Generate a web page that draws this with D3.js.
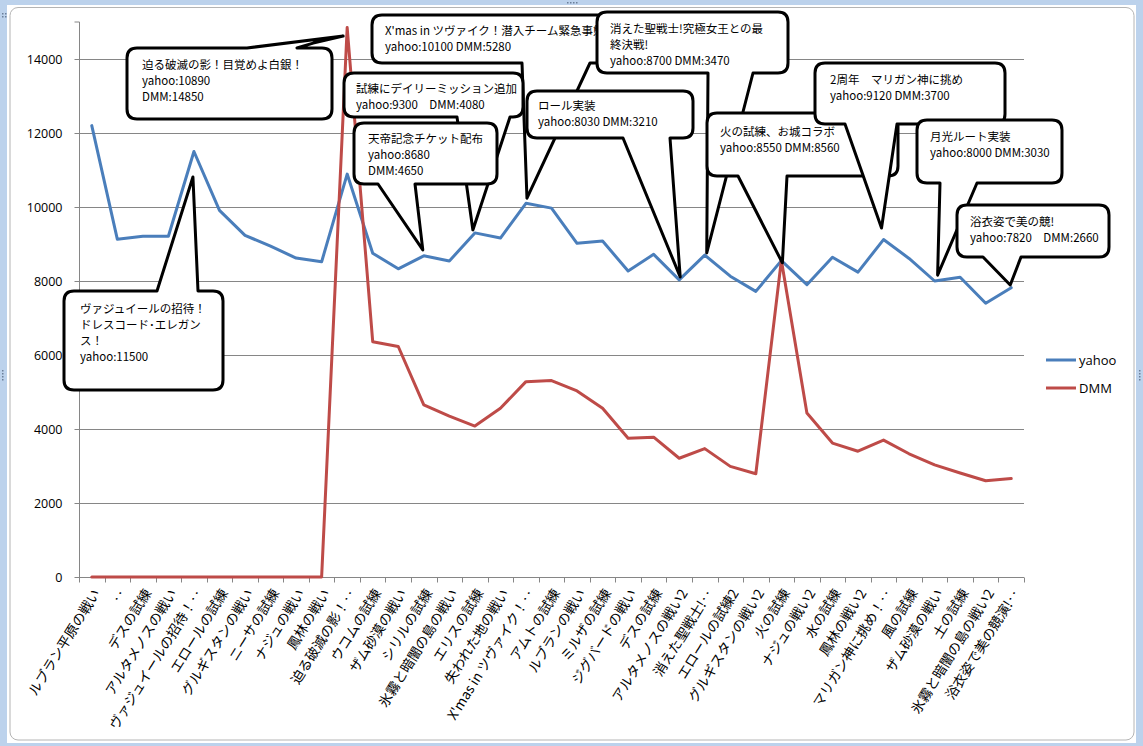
<!DOCTYPE html>
<html><head><meta charset="utf-8">
<script src="https://cdn.jsdelivr.net/npm/d3@7"></script>
<style>
html,body{margin:0;padding:0;background:#fff;}
svg{display:block;}
</style></head>
<body>
<svg id="chart" width="1143" height="746"></svg>
<script>
const categories = ["ルブラン平原の戦い","‥","デスの試練","アルタメノスの戦い","ヴァジュイールの招待！‥","エロールの試練","グルギスタンの戦い","ニーサの試練","ナジュの戦い","鳳林の戦い","迫る破滅の影！‥","ウコムの試練","ザム砂漠の戦い","シリルの試練","氷霧と暗闇の島の戦い","エリスの試練","失われた地の戦い","X'mas in ツヴァイク！‥","アムトの試練","ルブランの戦い","ミルザの試練","ジグバードの戦い","デスの試練","アルタメノスの戦い2","消えた聖戦士!‥","エロールの試練2","グルギスタンの戦い2","火の試練","ナジュの戦い2","水の試練","鳳林の戦い2","マリガン神に挑め！‥","風の試練","ザム砂漠の戦い","土の試練","氷霧と暗闇の島の戦い2","浴衣姿で美の競演!‥"];
const yahoo = [12200,9130,9210,9210,11500,9910,9235,8940,8620,8520,10890,8750,8330,8680,8540,9300,9160,10100,9970,9020,9080,8270,8720,8030,8700,8130,7720,8550,7900,8640,8240,9120,8610,8000,8100,7400,7820];
const dmm = [0,0,0,0,0,0,0,0,0,0,14850,6360,6230,4650,4350,4080,4560,5280,5310,5030,4560,3750,3780,3210,3470,2990,2790,8560,4430,3620,3400,3700,3330,3030,2810,2600,2660];
const yTicks = [0,2000,4000,6000,8000,10000,12000,14000];
const seriesNames = ["yahoo","DMM"];

// annotation texts (category index, value pointed at)
const noteTexts = [
  ["ヴァジュイールの招待！","ドレスコード･エレガン","ス！","yahoo:11500"],
  ["迫る破滅の影！目覚めよ白銀！","yahoo:10890","DMM:14850"],
  ["X'mas in ツヴァイク！潜入チーム緊急事態","yahoo:10100 DMM:5280"],
  ["試練にデイリーミッション追加","yahoo:9300　DMM:4080"],
  ["天帝記念チケット配布","yahoo:8680","DMM:4650"],
  ["消えた聖戦士!究極女王との最","終決戦!","yahoo:8700 DMM:3470"],
  ["ロール実装","yahoo:8030 DMM:3210"],
  ["火の試練、お城コラボ","yahoo:8550 DMM:8560"],
  ["2周年　マリガン神に挑め","yahoo:9120 DMM:3700"],
  ["月光ルート実装","yahoo:8000 DMM:3030"],
  ["浴衣姿で美の競!","yahoo:7820　DMM:2660"]
];
const noteIndex = [4,10,17,15,13,24,23,27,31,33,36];
const noteValue = [10810,14620,10240,9380,8840,8760,8110,8490,9430,8160,7890];

// layout of the callouts (pixels)
const noteLayout = [
  {x0:64,y0:291,x1:223,y1:390,side:"top",b1:157,b2:198,dx:-1,tx:80,ty:313},
  {x0:127,y0:48,x1:332,y1:119,side:"top",b1:247,b2:297,dx:-4,tx:142,ty:69,kink:[-30,7]},
  {x0:372,y0:15,x1:690,y1:63,side:"bottom",b1:522,b2:590,dx:1,tx:385,ty:35},
  {x0:344,y0:73,x1:523,y1:117,side:"bottom",b1:457,b2:510,dx:-2,tx:356,ty:93},
  {x0:354,y0:123,x1:497,y1:184,side:"bottom",b1:378,b2:415,dx:-1,tx:368,ty:143},
  {x0:597,y0:12,x1:788,y1:73,side:"bottom",b1:708,b2:753,dx:2,tx:610,ty:33},
  {x0:527,y0:91,x1:693,y1:138,side:"bottom",b1:623,b2:670,dx:1,tx:538,ty:110},
  {x0:707,y0:113,x1:898,y1:176,side:"bottom",b1:738,b2:787,dx:1,tx:720,ty:136},
  {x0:815,y0:63,x1:1005,y1:124,side:"bottom",b1:845,b2:897,dx:-2,tx:830,ty:84},
  {x0:917,y0:120,x1:1062,y1:183,side:"bottom",b1:940,b2:977,dx:3,tx:930,ty:141},
  {x0:957,y0:205,x1:1109,y1:257,side:"bottom",b1:983,b2:1021,dx:-1,tx:970,ty:226}
];

const svg = d3.select("#chart");
// window frame
svg.append("rect").attr("x",0).attr("y",0).attr("width",1143).attr("height",746).attr("fill","#bcd2ec");
svg.append("rect").attr("x",7).attr("y",5).attr("width",1129).attr("height",738).attr("fill","#fff");
svg.append("rect").attr("x",10).attr("y",7.5).attr("width",1124).attr("height",732.5).attr("rx",8)
  .attr("fill","#fff").attr("stroke","#b4b4b4").attr("stroke-width",1);
// handles
const handleDots = [[2,13],[5,13],[2,16],[5,16],[567,2],[570,2],[573,2],[576,2],[2,370],[2,373],[2,376],[2,379],[1139,370],[1139,373],[1139,376],[1139,379]];
svg.selectAll("rect.h").data(handleDots).enter().append("rect").attr("class","h")
  .attr("x",d=>d[0]).attr("y",d=>d[1]).attr("width",1.5).attr("height",1.5).attr("fill","#6b7f99");

const L = 79, R = 1024, T = 22, B = 577;
const x = d3.scaleBand().domain(d3.range(categories.length)).range([L,R]).padding(0);
const cx = i => x(i) + x.bandwidth()/2;
const y = d3.scaleLinear().domain([0,15000]).range([B,T]);

// gridlines
svg.append("g").selectAll("line").data(yTicks.filter(v=>v>0)).enter().append("line")
  .attr("x1",L).attr("x2",R).attr("y1",d=>Math.round(y(d))+0.5).attr("y2",d=>Math.round(y(d))+0.5)
  .attr("stroke","#868686").attr("stroke-width",1);

// y axis
const yAxis = svg.append("g").attr("transform",`translate(${L+0.5},0)`)
  .call(d3.axisLeft(y).tickValues(yTicks).tickSize(5).tickPadding(12).tickFormat(d3.format("d")));
yAxis.select(".domain").attr("stroke","#868686").attr("d",`M-5,${T}H0V${B+0.5}`);
yAxis.selectAll(".tick line").attr("stroke","#868686");
yAxis.selectAll("text").attr("font-family","'Open Sans', sans-serif").attr("font-size",12.5).attr("fill","#000");

// x axis
const xAxisG = svg.append("g").attr("transform",`translate(0,${Math.round(B)+0.5})`);
xAxisG.append("line").attr("x1",L).attr("x2",R).attr("stroke","#868686");
xAxisG.selectAll("line.t").data(d3.range(categories.length+1)).enter().append("line").attr("class","t")
  .attr("x1",i=>Math.round(L + i*x.bandwidth())+0.5).attr("x2",i=>Math.round(L + i*x.bandwidth())+0.5)
  .attr("y1",0).attr("y2",5).attr("stroke","#868686");
xAxisG.selectAll("text").data(categories).enter().append("text")
  .attr("transform",(d,i)=>`translate(${cx(i)+5},13) rotate(-58)`)
  .attr("text-anchor","end").attr("dy","0.35em")
  .attr("font-family","'Noto Sans CJK JP', sans-serif").attr("font-size",13.6).attr("fill","#000")
  .text(d=>d);

// lines
const colors = ["#4a7ebb","#be4b48"];
const line = d3.line().x((d,i)=>cx(i)).y(d=>y(d));
[yahoo,dmm].forEach((s,k)=>{
  svg.append("path").datum(s).attr("d",line).attr("fill","none")
    .attr("stroke",colors[k]).attr("stroke-width",3).attr("stroke-linejoin","round").attr("stroke-linecap","round");
});

// legend
const lg = svg.append("g");
seriesNames.forEach((n,k)=>{
  const yy = 360 + k*28;
  lg.append("line").attr("x1",1046).attr("x2",1076).attr("y1",yy).attr("y2",yy).attr("stroke",colors[k]).attr("stroke-width",3);
  lg.append("text").attr("x",1079).attr("y",yy).attr("dy","0.35em").attr("font-family","'Open Sans', sans-serif")
    .attr("font-size",13).attr("fill","#000").text(n);
});

// callouts
function bubblePath(b, tip){
  const r = 10;
  const {x0,y0,x1,y1} = b;
  let p = `M${x0+r},${y0}`;
  if(b.side==="top"){
    p += `L${b.b1},${y0}L${tip[0]},${tip[1]}`;
    if(b.kink) p += `L${tip[0]+b.kink[0]},${tip[1]+b.kink[1]}`;
    p += `L${b.b2},${y0}`;
  }
  p += `L${x1-r},${y0}Q${x1},${y0} ${x1},${y0+r}L${x1},${y1-r}Q${x1},${y1} ${x1-r},${y1}`;
  if(b.side==="bottom"){
    p += `L${b.b2},${y1}L${tip[0]},${tip[1]}L${b.b1},${y1}`;
  }
  p += `L${x0+r},${y1}Q${x0},${y1} ${x0},${y1-r}L${x0},${y0+r}Q${x0},${y0} ${x0+r},${y0}Z`;
  return p;
}
const notes = svg.append("g");
noteLayout.forEach((b,k)=>{
  const tip = [cx(noteIndex[k]) + b.dx, y(noteValue[k])];
  const g = notes.append("g");
  g.append("path").attr("d",bubblePath(b,tip)).attr("fill","#fff").attr("stroke","#000")
    .attr("stroke-width",3).attr("stroke-linejoin","round");
  g.selectAll("text").data(noteTexts[k]).enter().append("text")
    .attr("x",b.tx).attr("y",(d,i)=>b.ty + i*16)
    .attr("font-family","'Noto Sans CJK JP', sans-serif").attr("font-size",11.5).attr("fill","#000")
    .text(d=>d);
});
</script>
</body></html>
